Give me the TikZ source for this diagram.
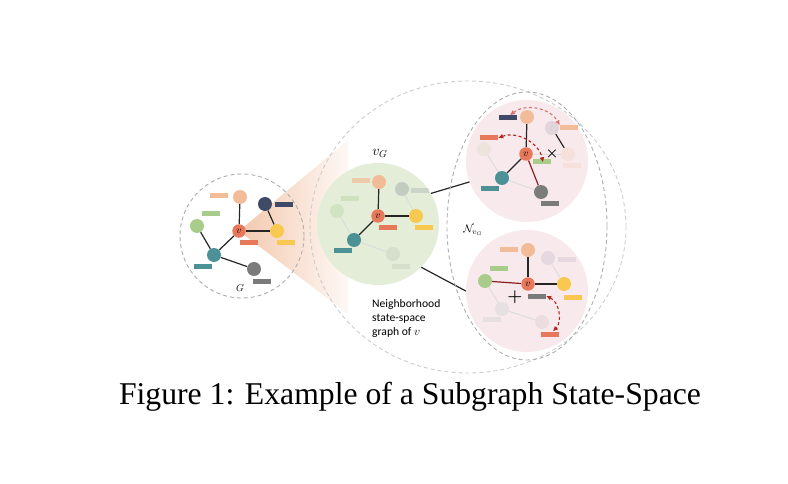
\documentclass[tikz,border=0pt]{standalone}
\usepackage{fontspec}
\setmainfont{Liberation Serif}
\newfontfamily\notefont{Carlito}
\usepackage{amsmath}
\usepackage{tikz}
\usetikzlibrary{arrows.meta,positioning,calc,shapes.geometric}
\definecolor{ssPeach}{HTML}{F3BC99}
\definecolor{ssNavy}{HTML}{3E4A66}
\definecolor{ssGreen}{HTML}{A8CD8A}
\definecolor{ssOrange}{HTML}{E8785A}
\definecolor{ssYellow}{HTML}{F8C850}
\definecolor{ssTeal}{HTML}{4B9195}
\definecolor{ssGray}{HTML}{7B7B7B}
\definecolor{ssGreenBg}{HTML}{E3EDD8}
\definecolor{ssPinkBg}{HTML}{F8E9EC}
\definecolor{ssRed}{HTML}{B2261E}
\definecolor{ssSalmon}{HTML}{D9726F}
\definecolor{ssDarkRed}{HTML}{8B1E1E}
\definecolor{ssCone}{HTML}{F3C8AD}
\pgfdeclarelayer{back}
\pgfdeclarelayer{wires}
\pgfsetlayers{back,wires,main}

\begin{document}
\begin{tikzpicture}[
 x=1pt,y=-1pt,>=Latex,
 vert/.style={circle,inner sep=0pt,minimum size=14pt},
 vnode/.style={vert,fill=ssOrange,minimum size=13.5pt,font=\fontsize{10}{10}\selectfont},
 featbar/.style={inner sep=0pt,minimum width=18pt,minimum height=5pt},
 faded/.style={fill opacity=#1},
 faded/.default=0.25,
 link/.style={line width=1.2pt,black!85},
 ghost/.style={line width=0.9pt,black!14},
 added/.style={line width=1.2pt,ssDarkRed},
 ring/.style={dash pattern=on 4pt off 3pt,line width=0.9pt,draw=black!32},
 panel/.style={circle,minimum size=122pt,inner sep=0pt},
 swap/.style={{Latex[length=5pt,width=5pt]}-{Latex[length=5pt,width=5pt]},
   dash pattern=on 3pt off 2.5pt,line width=1.1pt}
]
\useasboundingbox (0,0) rectangle (788,484);

% graph G
\node[ring,circle,minimum size=124pt,inner sep=0pt] (gring) at (242,236) {};
\node[vert,fill=ssPeach] (gpeach) at (240,197) {};
\node[featbar,fill=ssPeach] (gpeachbar) at (219,196) {};
\node[vert,fill=ssNavy] (gnavy) at (265,204) {};
\node[featbar,fill=ssNavy] (gnavybar) at (284,205) {};
\node[featbar,fill=ssGreen] (ggreenbar) at (211,214) {};
\node[vert,fill=ssGreen] (ggreen) at (197,226) {};
\node[vnode] (gv) at (239,231) {$v$};
\node[vert,fill=ssYellow] (gyellow) at (277,231) {};
\node[featbar,fill=ssOrange] (gorangebar) at (249,243) {};
\node[featbar,fill=ssYellow] (gyellowbar) at (286,243) {};
\node[vert,fill=ssTeal] (gteal) at (214,255) {};
\node[featbar,fill=ssTeal] (gtealbar) at (203,266) {};
\node[vert,fill=ssGray] (ggray) at (254,269) {};
\node[featbar,fill=ssGray] (ggraybar) at (262,281) {};
\node[font=\fontsize{10}{10}\selectfont] (glabel) at (240,288) {$G$};

\coordinate (conetop) at (348,140);
\coordinate (conebot) at (348,314);

% subgraph v_G
\node[panel] (vgpanel) at (378,224) {};
\node[font=\fontsize{14}{14}\selectfont] (vglabel) at (380,153) {$v_G$};
\node[vert,fill=ssPeach] (vpeach) at (379,182) {};
\node[featbar,fill=ssPeach,faded=0.7] (vpeachbar) at (361,181) {};
\node[vert,fill=ssNavy,faded=0.2] (vnavy) at (402,189) {};
\node[featbar,fill=ssNavy,faded=0.15] (vnavybar) at (420,191) {};
\node[featbar,fill=ssGreen,faded=0.35] (vgreenbar) at (350,199) {};
\node[vert,fill=ssGreen,faded=0.3] (vgreen) at (337,211) {};
\node[vnode] (vv) at (378,216) {$v$};
\node[vert,fill=ssYellow] (vyellow) at (416,216) {};
\node[featbar,fill=ssOrange] (vorangebar) at (388,228) {};
\node[featbar,fill=ssYellow] (vyellowbar) at (424,228) {};
\node[vert,fill=ssTeal] (vteal) at (354,240) {};
\node[featbar,fill=ssTeal] (vtealbar) at (343,251) {};
\node[vert,fill=ssGray,faded=0.12] (vgray) at (393,254) {};
\node[featbar,fill=ssGray,faded=0.12] (vgraybar) at (401,266) {};

% neighbours
\node[ring,draw=black!20,ellipse,minimum width=316pt,minimum height=292pt,inner sep=0pt] (bigring) at (468,227) {};
\node[ring,ellipse,minimum width=160pt,minimum height=268pt,inner sep=0pt] (nring) at (527,226) {};
\node[font=\fontsize{11}{11}\selectfont] (nlabel) at (473,230) {$\mathcal{N}_{v_G}$};

\node[panel] (toppanel) at (527,161) {};
\node[vert,fill=ssPeach] (tpeach) at (527,117) {};
\node[featbar,fill=ssNavy] (tnavybar) at (508,118) {};
\node[vert,fill=ssNavy,faded=0.12] (tnavy) at (552,128) {};
\node[featbar,fill=ssPeach] (tpeachbar) at (569,128) {};
\node[featbar,fill=ssOrange] (torangebar) at (489,138) {};
\node[vert,fill=ssGreen,faded=0.15] (tgreen) at (484,149) {};
\node[vnode] (tv) at (526,154) {$v$};
\node[font=\fontsize{15}{15}\selectfont] (tcross) at (552,154) {$\boldsymbol{\times}$};
\node[vert,fill=ssPeach,faded=0.2] (tyellow) at (568,154) {};
\node[featbar,fill=ssPeach,faded=0.2] (tyellowbar) at (572,166) {};
\node[featbar,fill=ssGreen] (tgreenbar) at (542,162) {};
\node[vert,fill=ssTeal] (tteal) at (502,178) {};
\node[featbar,fill=ssTeal] (ttealbar) at (490,189) {};
\node[vert,fill=ssGray] (tgray) at (541,192) {};
\node[featbar,fill=ssGray] (tgraybar) at (550,204) {};

\node[panel] (botpanel) at (527,291) {};
\node[vert,fill=ssPeach] (bpeach) at (528,250) {};
\node[featbar,fill=ssPeach] (bpeachbar) at (509,250) {};
\node[vert,fill=ssNavy,faded=0.1] (bnavy) at (548,258) {};
\node[featbar,fill=ssNavy,faded=0.1] (bnavybar) at (567,259) {};
\node[featbar,fill=ssGreen] (bgreenbar) at (499,268) {};
\node[vert,fill=ssGreen] (bgreen) at (485,281) {};
\node[vnode] (bv) at (528,284) {$v$};
\node[vert,fill=ssYellow] (byellow) at (564,284) {};
\node[font=\fontsize{18}{18}\selectfont] (bplus) at (515,297) {$\boldsymbol{+}$};
\node[featbar,fill=ssGray] (bgraybar) at (537,296) {};
\node[featbar,fill=ssYellow] (byellowbar) at (573,297) {};
\node[vert,fill=ssTeal,faded=0.1] (bteal) at (502,309) {};
\node[featbar,fill=ssTeal,faded=0.1] (btealbar) at (492,319) {};
\node[vert,fill=ssGray,faded=0.1] (bgray) at (542,322) {};
\node[featbar,fill=ssOrange] (borangebar) at (550,334) {};

\node[font=\notefont\fontsize{11.6}{14}\selectfont,align=left,anchor=north west,inner sep=0pt] (note) at (372,299) {Neighborhood\\state-space\\graph of $v$};

\node[font=\fontsize{31.7}{36}\selectfont,anchor=base] (caption) at (410,404) {Figure 1: Example of a Subgraph State-Space};

\begin{pgfonlayer}{back}
\shade[left color=ssCone,right color=ssCone!12] (gv.center) -- (conetop) -- (conebot) -- cycle;
\fill[ssGreenBg] (vgpanel.center) circle (61);
\fill[ssPinkBg] (toppanel.center) circle (61);
\fill[ssPinkBg] (botpanel.center) circle (61);
\end{pgfonlayer}

\begin{pgfonlayer}{wires}
\draw[link] (gpeach) -- (gv);
\draw[link] (gnavy) -- (gyellow);
\draw[link] (gv) -- (gyellow);
\draw[link] (gv) -- (gteal);
\draw[link] (ggreen) -- (gteal);
\draw[link] (gteal) -- (ggray);

\draw[link] (vpeach) -- (vv);
\draw[link] (vv) -- (vyellow);
\draw[link] (vv) -- (vteal);
\draw[ghost] (vnavy) -- (vyellow);
\draw[ghost] (vgreen) -- (vteal);
\draw[ghost] (vteal) -- (vgray);

\draw[link] (vgpanel.30) -- (toppanel.200);
\draw[link] (vgpanel.-45) -- (botpanel.west);

\draw[link] (tpeach) -- (tv);
\draw[link] (tv) -- (tteal);
\draw[added] (tv) -- (tgray);
\draw[link] (tnavy) -- (tyellow);
\draw[ghost] (tgreen) -- (tteal);
\draw[ghost] (tteal) -- (tgray);
\draw[ghost] (tv) -- (tyellow);

\draw[link] (bpeach) -- (bv);
\draw[link] (bv) -- (byellow);
\draw[added] (bgreen) -- (bv);
\draw[ghost] (bnavy) -- (byellow);
\draw[ghost] (bgreen) -- (bteal);
\draw[ghost] (bteal) -- (bgray);
\end{pgfonlayer}

\draw[swap,ssSalmon] ([xshift=2pt]tnavybar.north) to[bend left=50] (tpeachbar.north west);
\draw[swap,ssRed] (torangebar.east) to[bend left=50] ([xshift=1pt,yshift=-3pt]tgreenbar.north);
\draw[swap,ssRed] (bgraybar.east) to[bend left=55] ([xshift=3pt]borangebar.north);
\end{tikzpicture}
\end{document}
